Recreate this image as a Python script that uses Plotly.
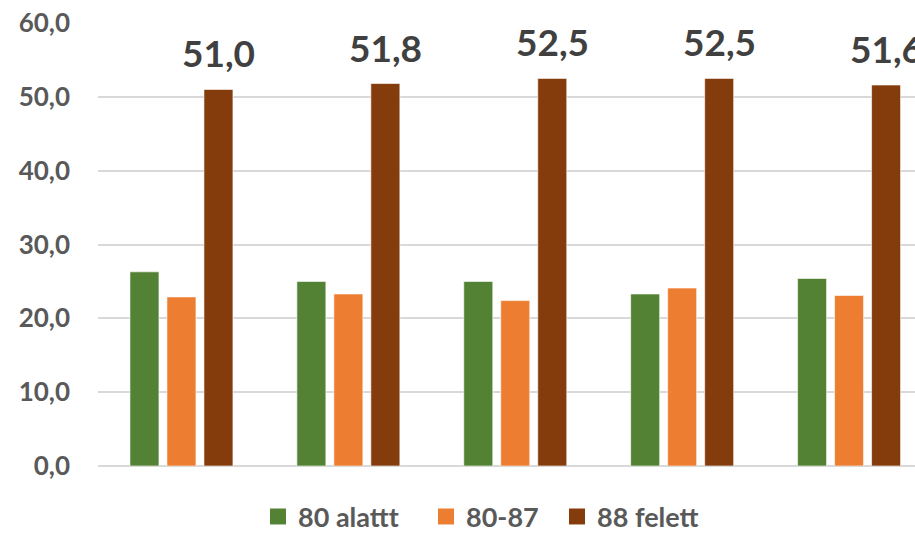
import plotly.graph_objects as go

groups = [0, 1, 2, 3, 4]
series_names = ["80 alattt", "80-87", "88 felett"]
alatt = [26.3, 25.0, 25.0, 23.3, 25.4]
kozep = [22.9, 23.3, 22.4, 24.1, 23.1]
felett = [51.0, 51.8, 52.5, 52.5, 51.6]
colors = ["#548235", "#ED7D31", "#843C0C"]
y_ticks = [0, 10, 20, 30, 40, 50, 60]

FONT = "Lato"
legend_ids = ["legend", "legend2", "legend3"]
legend_x = [258, 426, 557]  # pixel position of each legend entry

fig = go.Figure()
for name, vals, col in zip(series_names, [alatt, kozep, felett], colors):
    fig.add_trace(go.Bar(
        x=groups, y=vals, name=name, showlegend=False,
        marker=dict(color=col, line=dict(color="rgba(255,255,255,0.6)", width=1)),
    ))
# legend entries with large square swatches
for name, col, lid in zip(series_names, colors, legend_ids):
    fig.add_trace(go.Scatter(
        x=[None], y=[None], name=name, mode="markers", legend=lid,
        marker=dict(symbol="square", size=17, color=col),
    ))

# data labels on the third series
offset = 37 / 167.0
for g, v in zip(groups, felett):
    fig.add_annotation(
        x=g + offset, y=v, xref="x", yref="y",
        text=f"{v:.1f}".replace(".", ","), showarrow=False,
        yanchor="bottom", yshift=12,
        font=dict(family=FONT, size=37, color="#404040", weight="bold"),
    )

W, H = 915, 534
legend_common = dict(
    orientation="h", yref="container", xref="container",
    xanchor="left", y=0.032, yanchor="middle",
    font=dict(family=FONT, size=27, color="#595959", weight="bold"),
    itemsizing="trace", itemwidth=30,
)
fig.update_layout(
    width=W, height=H,
    margin=dict(l=97.5, r=0, t=23, b=68),
    paper_bgcolor="white", plot_bgcolor="white",
    barmode="group", bargap=0.335, bargroupgap=0.216,
    separators=",.",
    font=dict(family=FONT, color="#595959"),
    showlegend=True,
    legend=dict(x=legend_x[0] / W, **legend_common),
    legend2=dict(x=legend_x[1] / W, **legend_common),
    legend3=dict(x=legend_x[2] / W, **legend_common),
    xaxis=dict(range=[-0.5, 4.395], showticklabels=False, showgrid=False,
               zeroline=False, showline=False, ticks=""),
    yaxis=dict(range=[0, 60], tickvals=y_ticks, tickformat=".1f",
               showgrid=True, gridcolor="#D9D9D9", gridwidth=1.5,
               zeroline=True, zerolinecolor="#D9D9D9", zerolinewidth=1.5,
               showline=False, ticks="", ticklabelstandoff=27,
               tickfont=dict(family=FONT, size=26, color="#595959", weight="bold")),
)

fig.write_html("out.html", config={"displayModeBar": False},
               post_script="document.body.style.margin='0';")
